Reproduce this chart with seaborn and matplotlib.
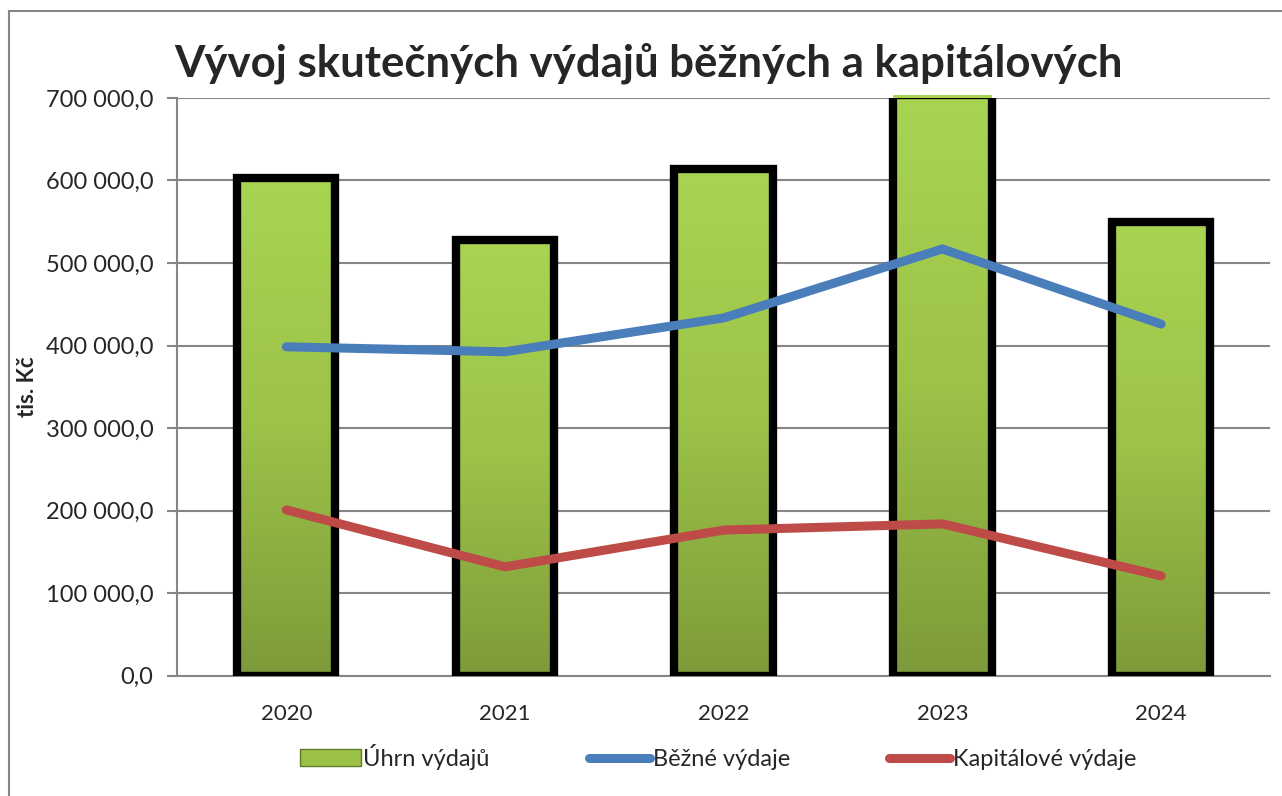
import numpy as np
import pandas as pd
import matplotlib
matplotlib.use("Agg")
import matplotlib.pyplot as plt
import seaborn as sns
from matplotlib.patches import Rectangle, Patch
from matplotlib.lines import Line2D
from matplotlib.ticker import FuncFormatter, MultipleLocator
from matplotlib.colors import LinearSegmentedColormap

# data (tis. Kč)
roky = ["2020", "2021", "2022", "2023", "2024"]
uhrn = [603000, 528000, 614000, 703000, 550000]
bezne = [398500, 392500, 433500, 517000, 426000]
kapitalove = [201000, 132000, 176500, 184000, 121000]

df = pd.DataFrame({"rok": roky, "uhrn": uhrn, "bezne": bezne, "kapitalove": kapitalove})

sns.set_theme(style="white")
plt.rcParams["font.family"] = ["Lato", "DejaVu Sans"]

fig = plt.figure(figsize=(12.82, 7.96), dpi=100)
ax = fig.add_axes([0.138, 0.151, 0.853, 0.726])

# sloupce
sns.barplot(data=df, x="rok", y="uhrn", color="#9bc046", width=0.45,
            edgecolor="black", linewidth=6, saturation=1, ax=ax, zorder=2)

# gradient ve sloupcich, obrys navrch
cmap = LinearSegmentedColormap.from_list("g", ["#7d9b3a", "#9cc248", "#a9d452"])
for p in ax.patches:
    x0, y0 = p.get_x(), p.get_y()
    w, h = p.get_width(), p.get_height()
    im = ax.imshow(np.linspace(0, 1, 100).reshape(-1, 1), cmap=cmap, origin="lower",
                   extent=[x0, x0 + w, y0, y0 + h], aspect="auto", zorder=2.5)
    im.set_clip_path(p)
    p.set_zorder(3)
    p.set_facecolor("none")

# cary
pos = np.arange(len(roky))
sns.lineplot(x=pos, y=df["bezne"], color="#4a7ebb", linewidth=6.5, ax=ax,
             solid_capstyle="round", solid_joinstyle="miter", zorder=4)
sns.lineplot(x=pos, y=df["kapitalove"], color="#be4b48", linewidth=6.5, ax=ax,
             solid_capstyle="round", solid_joinstyle="miter", zorder=4)

ax.set_xlim(-0.5, 4.5)
ax.set_ylim(0, 700000)
ax.yaxis.set_major_locator(MultipleLocator(100000))
ax.yaxis.set_major_formatter(FuncFormatter(lambda v, _: f"{v:,.1f}".replace(",", " ").replace(".", ",")))
ax.grid(axis="y", color="#868686", linewidth=1.5, zorder=0)
ax.set_axisbelow(True)

for s in ["top", "right"]:
    ax.spines[s].set_visible(False)
for s in ["left", "bottom"]:
    ax.spines[s].set_color("#868686")
    ax.spines[s].set_linewidth(1.5)

ax.set_xticks(pos)
ax.set_xticklabels(roky)
ax.set_xticks(np.arange(-0.5, 5, 1), minor=True)
ax.tick_params(axis="x", which="major", length=0, pad=20, labelsize=16)
ax.tick_params(axis="x", which="minor", length=7, width=1.5, color="#868686", direction="out")
ax.tick_params(axis="y", length=7, width=1.5, color="#868686", direction="out", labelsize=17,
               left=True, pad=10)
ax.set_xlabel("")
ax.set_ylabel("tis. Kč", fontsize=16, fontweight="bold")
ax.yaxis.set_label_coords(-0.127, 0.50)

fig.text(0.136, 0.92, "Vývoj skutečných výdajů běžných a kapitálových",
         fontsize=31.5, fontweight="bold", ha="left", va="center")

# ramecek grafu
fig.patches.append(Rectangle((9 / 1282, -0.1), 1.2, 0.1 + 1 - 11 / 796, transform=fig.transFigure,
                             fill=False, edgecolor="#868686", linewidth=1.5))

handles = [
    Patch(facecolor="#9bc046", edgecolor="#5f7a2a", linewidth=1),
    Line2D([], [], color="#4a7ebb", linewidth=6.5, solid_capstyle="round"),
    Line2D([], [], color="#be4b48", linewidth=6.5, solid_capstyle="round"),
]
fig.legend(handles, ["Úhrn výdajů", "Běžné výdaje", "Kapitálové výdaje"], loc="center",
           bbox_to_anchor=(0.56, 0.049), ncol=3, frameon=False, fontsize=17,
           handlelength=2.6, handletextpad=0.1, columnspacing=4.2)

fig.savefig("out.png", dpi=100)
